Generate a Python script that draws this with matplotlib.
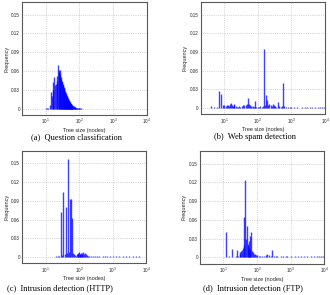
import numpy as np
import matplotlib
matplotlib.use("Agg")
import matplotlib.pyplot as plt

plt.rcParams['font.family'] = ['Liberation Sans', 'DejaVu Sans']

### data: tree size (nodes) -> frequency
size_a = list(range(10, 61)) + [62, 64, 66, 68, 70, 72, 74, 76, 78, 80, 83, 86, 90, 95, 100, 105, 110]
freq_a = [0.0005, 0.0005, 0.001, 0.006, 0.026, 0.020, 0.042, 0.030, 0.051, 0.038,
          0.040, 0.045, 0.052, 0.070, 0.058, 0.062, 0.055, 0.061, 0.050, 0.048,
          0.045, 0.042, 0.040, 0.038, 0.035, 0.033, 0.031, 0.029, 0.027, 0.025,
          0.024, 0.022, 0.021, 0.020, 0.018, 0.017, 0.016, 0.015, 0.014, 0.013,
          0.012, 0.011, 0.010, 0.009, 0.009, 0.008, 0.008, 0.007, 0.007, 0.006,
          0.006,
          0.005, 0.005, 0.004, 0.004, 0.003, 0.003, 0.003, 0.002, 0.002, 0.002,
          0.0015, 0.001, 0.001, 0.001, 0.0008, 0.0005, 0.0005]

size_b = [4, 5, 6, 7, 8, 9, 10, 11, 12, 13, 14, 15, 16, 17, 18, 19, 20, 22, 24, 26,
          28, 30, 33, 36, 40, 44, 48, 52, 55, 58, 62, 66, 70, 75, 80, 84, 90, 100,
          110, 120, 130, 140, 155, 165, 175, 190, 205, 220, 240, 260, 280, 300,
          330, 360, 400, 440, 480, 520, 565, 620, 700, 800, 900, 1000, 1200, 1500,
          2000, 2500, 3000, 3500, 4000, 5000, 6000, 7000, 8000, 9000]
freq_b = [0.003, 0.001, 0.001, 0.027, 0.022, 0.005, 0.004, 0.003, 0.004, 0.005,
          0.003, 0.006, 0.008, 0.004, 0.003, 0.006, 0.005, 0.003, 0.002, 0.002,
          0.003, 0.002, 0.003, 0.004, 0.004, 0.005, 0.006, 0.016, 0.007, 0.004,
          0.003, 0.002, 0.003, 0.002, 0.002, 0.011, 0.002, 0.002, 0.002, 0.003,
          0.002, 0.003, 0.094, 0.005, 0.020, 0.012, 0.004, 0.006, 0.005, 0.003,
          0.006, 0.004, 0.003, 0.002, 0.010, 0.003, 0.002, 0.003, 0.040, 0.003,
          0.002, 0.002, 0.001, 0.002, 0.001, 0.001, 0.001, 0.0008, 0.0008, 0.0008,
          0.0008, 0.0008, 0.0008, 0.0008, 0.0008, 0.0008]

size_c = [20, 23, 25, 28, 31, 34, 37, 40, 43, 46, 49, 53, 57, 61, 65, 70, 75, 80,
          85, 90, 95, 100, 105, 110, 115, 120, 125, 130, 140, 150, 160, 170, 180,
          200, 230, 260, 300, 350, 400, 500, 600, 700, 850, 1000, 1300, 1600, 2000,
          2500, 3000, 4000, 5000, 6000]
freq_c = [0.001, 0.002, 0.001, 0.072, 0.003, 0.105, 0.004, 0.080, 0.006, 0.158,
          0.008, 0.093, 0.093, 0.063, 0.006, 0.004, 0.003, 0.002, 0.005, 0.007,
          0.004, 0.008, 0.005, 0.004, 0.007, 0.003, 0.006, 0.008, 0.005, 0.007,
          0.004, 0.003, 0.002, 0.002, 0.002, 0.002, 0.002, 0.002, 0.002, 0.002,
          0.002, 0.002, 0.002, 0.002, 0.002, 0.002, 0.002, 0.002, 0.002, 0.002,
          0.001, 0.001]

size_d = [12, 15, 18, 21, 23, 25, 27, 30, 32, 34, 36, 38, 40, 42, 44, 46, 49, 52,
          54, 56, 58, 60, 63, 66, 70, 75, 80, 85, 90, 100, 110, 120, 140, 160, 180,
          200, 220, 250, 280, 320, 360, 400, 500, 600, 700, 800, 1000, 1300, 1600,
          2000, 2500, 3000, 4000, 5000, 6000, 7000, 8000, 9000]
freq_d = [0.041, 0.002, 0.014, 0.001, 0.002, 0.012, 0.003, 0.006, 0.008, 0.010,
          0.012, 0.015, 0.064, 0.020, 0.124, 0.030, 0.051, 0.022, 0.018, 0.027,
          0.015, 0.035, 0.012, 0.040, 0.010, 0.008, 0.006, 0.005, 0.004, 0.004,
          0.003, 0.003, 0.003, 0.003, 0.004, 0.005, 0.004, 0.003, 0.012, 0.003,
          0.002, 0.002, 0.002, 0.002, 0.002, 0.002, 0.002, 0.002, 0.002, 0.003,
          0.002, 0.002, 0.002, 0.002, 0.002, 0.002, 0.002, 0.002]

captions = ["(a)  Question classification", "(b)  Web spam detection",
            "(c)  Intrusion detection (HTTP)", "(d)  Intrusion detection (FTP)"]
yticks = [0, 0.03, 0.06, 0.09, 0.12, 0.15]
ytick_labels = ["0", "0.03", "0.06", "0.09", "0.12", "0.15"]
xticks = [10, 100, 1000, 10000]

### layout
fig = plt.figure(figsize=(3.3, 2.95), dpi=100)
rects = [[0.067, 0.610, 0.378, 0.383],
         [0.608, 0.613, 0.377, 0.380],
         [0.067, 0.108, 0.376, 0.380],
         [0.606, 0.106, 0.377, 0.382]]
cap_pos = [(0.232, 0.535), (0.773, 0.537), (0.183, 0.022), (0.767, 0.022)]
data = [(size_a, freq_a), (size_b, freq_b), (size_c, freq_c), (size_d, freq_d)]

for i in range(4):
    ax = fig.add_axes(rects[i])
    s, f = data[i]
    ax.vlines(s, 0, f, color='blue', alpha=0.75, lw=1.0)
    ax.set_xscale('log')
    ax.set_xlim(2, 10000)
    ax.set_ylim(-0.01, 0.17)
    ax.set_xticks(xticks)
    ax.xaxis.set_minor_locator(matplotlib.ticker.NullLocator())
    ax.set_yticks(yticks)
    ax.set_yticklabels(ytick_labels)
    ax.tick_params(labelsize=3.3, length=0, pad=1.5, colors='0.15')
    ax.grid(True, ls=':', lw=0.5, color='0.7')
    ax.set_axisbelow(True)
    for sp in ax.spines.values():
        sp.set_color('0.35')
        sp.set_linewidth(0.8)
    ax.set_xlabel('Tree size (nodes)', fontsize=4.0, labelpad=1, color='0.15')
    ax.set_ylabel('Frequency', fontsize=4.0, labelpad=1.5, color='0.15')
    fig.text(cap_pos[i][0], cap_pos[i][1], captions[i], fontsize=6.0,
             family='Liberation Serif', ha='center', va='center')

plt.savefig('out.png', dpi=100)
